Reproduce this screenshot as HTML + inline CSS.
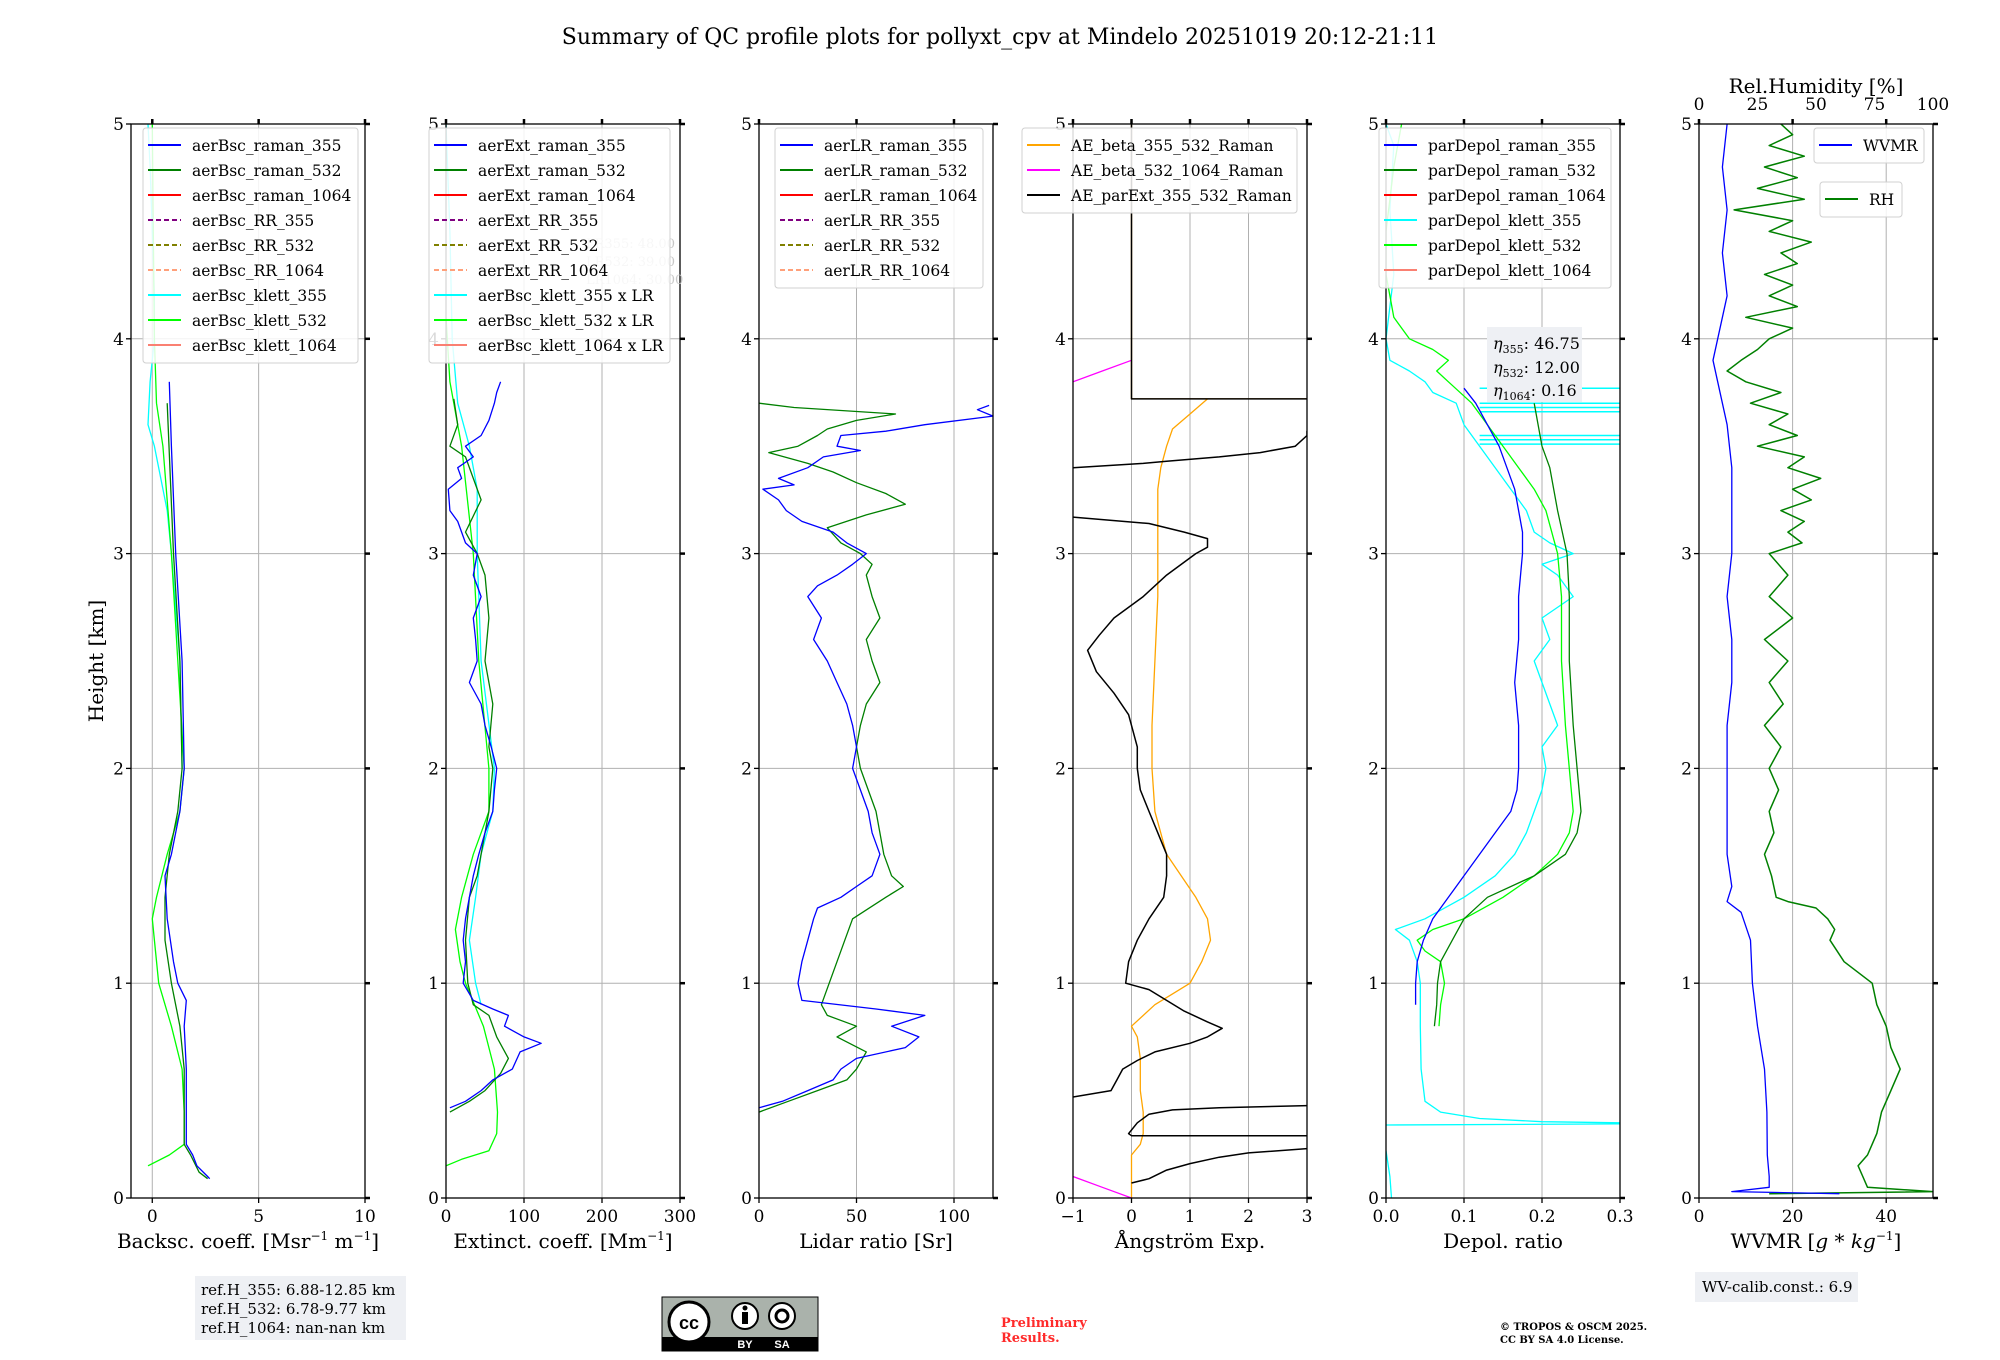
<!DOCTYPE html>
<html><head><meta charset="utf-8">
<style>
html,body{margin:0;padding:0;background:#fff;}
svg{display:block;font-family:"DejaVu Serif","Liberation Serif",serif;}
</style></head>
<body>
<svg id="chart" width="2000" height="1360" viewBox="0 0 2000 1360" xmlns="http://www.w3.org/2000/svg">
<text x="1000" y="44" text-anchor="middle" font-size="22">Summary of QC profile plots for pollyxt_cpv at Mindelo 20251019 20:12-21:11</text>
<text transform="translate(103,661) rotate(-90)" text-anchor="middle" font-size="20">Height [km]</text>
<g id="panels"></g>
<rect x="195" y="1276" width="211" height="64" fill="#eef0f4"/>
<text x="201" y="1295" font-size="15">ref.H_355: 6.88-12.85 km</text>
<text x="201" y="1314" font-size="15">ref.H_532: 6.78-9.77 km</text>
<text x="201" y="1333" font-size="15">ref.H_1064: nan-nan km</text>
<g>
<rect x="662" y="1297" width="156" height="54" fill="#aab2ab" stroke="#000" stroke-width="1"/>
<rect x="662" y="1337" width="156" height="14" fill="#000"/>
<circle cx="689" cy="1322" r="20" fill="#fff" stroke="#000" stroke-width="3"/>
<text x="689" y="1329" text-anchor="middle" font-size="18" font-weight="bold" font-family="Liberation Sans, sans-serif">cc</text>
<circle cx="745" cy="1316" r="13" fill="#fff" stroke="#000" stroke-width="2"/>
<rect x="742" y="1312" width="6" height="12" fill="#000"/><circle cx="745" cy="1308" r="2.5" fill="#000"/>
<circle cx="782" cy="1316" r="13" fill="#fff" stroke="#000" stroke-width="2"/>
<circle cx="782" cy="1316" r="6" fill="none" stroke="#000" stroke-width="3"/>
<text x="745" y="1348" text-anchor="middle" font-size="11" fill="#fff" font-family="Liberation Sans, sans-serif" font-weight="bold">BY</text>
<text x="782" y="1348" text-anchor="middle" font-size="11" fill="#fff" font-family="Liberation Sans, sans-serif" font-weight="bold">SA</text>
</g>
<text x="1001" y="1327" font-size="13" font-weight="bold" fill="#ff2a2a">Preliminary</text>
<text x="1001" y="1342" font-size="13" font-weight="bold" fill="#ff2a2a">Results.</text>
<text x="1500" y="1330" font-size="10" font-weight="bold">© TROPOS &amp; OSCM 2025.</text>
<text x="1500" y="1343" font-size="10" font-weight="bold">CC BY SA 4.0 License.</text>
<rect x="1695" y="1272" width="163" height="30" fill="#eef0f4"/>
<text x="1702" y="1292" font-size="15">WV-calib.const.: 6.9</text>
</svg>
<script>
const heightTicks = [0,1,2,3,4,5];
const bscTicks = [0,5,10];
const extTicks = [0,100,200,300];
const lrTicks = [0,50,100];
const aeTicks = [-1,0,1,2,3];
const depolTicks = [0.0,0.1,0.2,0.3];
const wvTicks = [0,20,40];
const rhTicks = [0,25,50,75,100];

const bscRaman355 = [[3.8,0.8],[3.5,0.9],[3.0,1.1],[2.5,1.4],[2.0,1.5],[1.8,1.3],[1.6,0.9],[1.5,0.6],[1.3,0.7],[1.1,1.0],[1.0,1.2],[0.92,1.6],[0.8,1.5],[0.6,1.6],[0.4,1.6],[0.25,1.6],[0.2,1.9],[0.15,2.1],[0.1,2.6],[0.09,2.7]];
const bscRaman532 = [[3.7,0.7],[3.0,1.0],[2.5,1.3],[2.0,1.4],[1.8,1.2],[1.6,0.8],[1.4,0.6],[1.2,0.6],[1.0,0.9],[0.8,1.3],[0.6,1.5],[0.4,1.5],[0.25,1.5],[0.2,1.8],[0.12,2.2],[0.09,2.6]];
const bscKlett355 = [[5,-0.2],[4.8,-0.1],[4.5,0.0],[4.2,0.1],[4.0,0.1],[3.8,-0.1],[3.6,-0.2],[3.5,0.1],[3.2,0.7],[3.0,0.9],[2.5,1.3],[2.0,1.4]];
const bscKlett532 = [[5,0.0],[4.5,0.05],[4.0,0.1],[3.7,0.2],[3.5,0.5],[3.0,0.9],[2.5,1.2],[2.0,1.5],[1.8,1.3],[1.6,0.7],[1.4,0.2],[1.3,0.0],[1.2,0.1],[1.0,0.3],[0.8,0.9],[0.6,1.4],[0.4,1.5],[0.25,1.5],[0.2,0.8],[0.15,-0.2]];

const extRaman355 = [[3.8,70],[3.75,65],[3.7,62],[3.62,55],[3.55,45],[3.5,25],[3.45,35],[3.4,15],[3.35,20],[3.3,3],[3.2,5],[3.15,15],[3.05,25],[3.0,40],[2.9,35],[2.8,45],[2.7,35],[2.6,38],[2.5,40],[2.4,30],[2.3,45],[2.2,50],[2.1,58],[2.0,65],[1.9,62],[1.8,60],[1.7,50],[1.6,42],[1.5,35],[1.4,30],[1.3,25],[1.2,22],[1.1,25],[1.0,22],[0.92,35],[0.88,60],[0.85,80],[0.8,75],[0.75,100],[0.72,122],[0.68,95],[0.6,85],[0.55,60],[0.5,45],[0.45,25],[0.42,5]];
const extRaman532 = [[3.72,10],[3.6,15],[3.5,5],[3.45,25],[3.35,35],[3.25,45],[3.1,25],[3.0,40],[2.9,50],[2.7,55],[2.5,50],[2.3,60],[2.1,55],[2.0,60],[1.8,55],[1.6,45],[1.5,40],[1.4,30],[1.2,25],[1.0,28],[0.9,35],[0.85,55],[0.75,65],[0.65,80],[0.58,70],[0.5,50],[0.45,30],[0.4,5]];
const extKlett355 = [[5,0],[4.5,5],[4.0,8],[3.7,15],[3.5,30],[3.3,40],[3.0,40],[2.5,45],[2.0,62],[1.8,60],[1.6,45],[1.4,38],[1.2,30],[1.0,38],[0.9,45]];
const extKlett532 = [[4.1,0],[3.8,5],[3.5,20],[3.0,35],[2.5,42],[2.0,55],[1.8,55],[1.6,35],[1.4,20],[1.25,12],[1.1,18],[1.0,25],[0.8,48],[0.6,62],[0.4,66],[0.3,65],[0.22,55],[0.18,20],[0.15,0]];

const lrRaman355 = [[3.69,118],[3.67,112],[3.64,120],[3.6,85],[3.57,65],[3.55,42],[3.5,40],[3.48,52],[3.45,33],[3.4,25],[3.35,10],[3.32,18],[3.3,2],[3.25,10],[3.2,14],[3.15,22],[3.1,38],[3.05,45],[3.0,55],[2.95,48],[2.9,40],[2.85,30],[2.8,25],[2.7,32],[2.6,28],[2.5,35],[2.4,40],[2.3,45],[2.2,48],[2.1,50],[2.0,48],[1.9,52],[1.8,56],[1.7,58],[1.6,62],[1.5,58],[1.45,50],[1.4,42],[1.35,30],[1.3,28],[1.2,25],[1.1,22],[1.0,20],[0.92,22],[0.88,60],[0.85,85],[0.8,68],[0.75,82],[0.7,75],[0.65,50],[0.6,42],[0.55,38],[0.5,25],[0.45,12],[0.42,0]];
const lrRaman532 = [[3.7,0],[3.68,18],[3.65,70],[3.62,50],[3.58,35],[3.55,30],[3.5,20],[3.47,5],[3.42,25],[3.38,38],[3.33,50],[3.28,65],[3.23,75],[3.18,55],[3.12,35],[3.05,42],[3.0,52],[2.95,58],[2.9,55],[2.8,58],[2.7,62],[2.6,55],[2.5,58],[2.4,62],[2.3,55],[2.2,52],[2.1,50],[2.0,52],[1.9,56],[1.8,60],[1.7,62],[1.6,64],[1.5,68],[1.45,74],[1.4,65],[1.3,48],[1.2,44],[1.1,40],[1.0,36],[0.9,32],[0.85,35],[0.8,50],[0.75,40],[0.68,55],[0.6,50],[0.55,45],[0.5,30],[0.45,15],[0.4,0]];

const aeBsc355532 = [[3.72,1.3],[3.65,1.0],[3.58,0.7],[3.5,0.6],[3.4,0.5],[3.3,0.45],[3.0,0.45],[2.8,0.45],[2.5,0.4],[2.2,0.35],[2.0,0.35],[1.8,0.4],[1.6,0.6],[1.4,1.1],[1.3,1.3],[1.2,1.35],[1.1,1.2],[1.0,1.0],[0.95,0.7],[0.9,0.4],[0.8,0.0],[0.75,0.1],[0.65,0.15],[0.5,0.15],[0.4,0.2],[0.3,0.2],[0.25,0.15],[0.2,0.0],[0.0,0.0],null,[5,0],[3.72,0],[3.72,3]];
const aeBsc5321064 = [[3.9,0],[3.85,-0.5],[3.8,-1],null,[0.1,-1],[0.05,-0.5],[0.0,0]];
const aeParExt = [[5,0],[3.72,0],[3.72,3],null,[3.6,3.1],[3.57,3.0],[3.55,3.0],[3.5,2.8],[3.47,2.2],[3.45,1.5],[3.43,0.6],[3.42,0.2],[3.4,-1],null,[3.17,-1],[3.14,0.3],[3.1,0.9],[3.07,1.3],[3.03,1.3],[3.0,1.1],[2.9,0.6],[2.8,0.2],[2.7,-0.3],[2.62,-0.55],[2.55,-0.75],[2.45,-0.6],[2.35,-0.3],[2.25,-0.05],[2.1,0.1],[2.0,0.1],[1.9,0.15],[1.8,0.3],[1.7,0.45],[1.6,0.6],[1.5,0.6],[1.4,0.55],[1.3,0.3],[1.2,0.1],[1.1,-0.05],[1.0,-0.1],[0.97,0.3],[0.92,0.6],[0.87,0.9],[0.82,1.3],[0.79,1.55],[0.75,1.3],[0.72,1.0],[0.68,0.4],[0.64,0.1],[0.6,-0.15],[0.55,-0.25],[0.5,-0.35],[0.47,-1],null,[0.43,3],[0.42,1.5],[0.41,0.7],[0.39,0.3],[0.35,0.1],[0.3,-0.05],[0.29,0],[0.29,3],null,[0.23,3],[0.21,2],[0.19,1.5],[0.16,1.0],[0.13,0.6],[0.09,0.3],[0.07,0.0]];

const depolRaman355 = [[3.77,0.1],[3.7,0.115],[3.6,0.13],[3.5,0.145],[3.4,0.155],[3.3,0.165],[3.2,0.17],[3.1,0.175],[3.0,0.175],[2.8,0.17],[2.6,0.17],[2.4,0.165],[2.2,0.17],[2.0,0.17],[1.9,0.168],[1.8,0.16],[1.7,0.14],[1.6,0.12],[1.5,0.1],[1.4,0.08],[1.3,0.06],[1.2,0.048],[1.1,0.04],[1.0,0.038],[0.9,0.038]];
const depolRaman532 = [[3.7,0.19],[3.6,0.195],[3.5,0.2],[3.4,0.21],[3.2,0.22],[3.0,0.232],[2.8,0.235],[2.5,0.235],[2.2,0.24],[2.0,0.245],[1.8,0.25],[1.7,0.245],[1.6,0.23],[1.5,0.19],[1.4,0.13],[1.3,0.1],[1.2,0.085],[1.1,0.07],[1.0,0.066],[0.9,0.065],[0.8,0.062]];
const depolKlett355 = [[5,0.0],[4.9,0.01],[4.6,0.005],[4.3,0.01],[4.0,0.0],[3.9,0.005],[3.85,0.03],[3.8,0.05],[3.75,0.06],[3.7,0.09],[3.6,0.1],[3.5,0.12],[3.4,0.14],[3.3,0.16],[3.25,0.17],[3.2,0.18],[3.1,0.19],[3.05,0.21],[3.0,0.24],[2.95,0.2],[2.9,0.22],[2.8,0.24],[2.7,0.2],[2.6,0.21],[2.5,0.19],[2.4,0.2],[2.3,0.21],[2.2,0.22],[2.1,0.2],[2.0,0.205],[1.9,0.2],[1.8,0.19],[1.7,0.18],[1.6,0.165],[1.5,0.14],[1.4,0.1],[1.3,0.05],[1.25,0.012],[1.2,0.03],[1.1,0.04],[1.0,0.044],[0.8,0.044],[0.6,0.045],[0.45,0.05],[0.4,0.07],[0.37,0.12],[0.355,0.2],[0.35,0.3],[0.345,0.3],[0.34,0.0],null,[0.22,0.0],[0.1,0.005],[0.0,0.007]];
const depolKlett532 = [[5,0.02],[4.8,0.01],[4.5,0.0],[4.3,0.0],[4.1,0.01],[4.0,0.03],[3.95,0.06],[3.9,0.08],[3.85,0.065],[3.8,0.08],[3.7,0.11],[3.6,0.13],[3.5,0.15],[3.4,0.17],[3.3,0.19],[3.2,0.205],[3.0,0.22],[2.8,0.225],[2.5,0.225],[2.2,0.23],[2.0,0.235],[1.8,0.24],[1.7,0.235],[1.6,0.22],[1.5,0.19],[1.4,0.15],[1.3,0.1],[1.25,0.06],[1.2,0.04],[1.15,0.05],[1.1,0.07],[1.0,0.075],[0.9,0.07],[0.8,0.068]];
const depolSpikeHeights = [3.77,3.7,3.68,3.66,3.55,3.53,3.51];

const wvmr = [[5,6],[4.8,5],[4.6,6],[4.4,5],[4.2,6],[4.0,4],[3.9,3],[3.8,4],[3.6,6],[3.4,7],[3.2,7],[3.0,7],[2.8,6],[2.6,7],[2.4,7],[2.2,6],[2.0,6],[1.8,6],[1.6,6],[1.45,7],[1.38,6],[1.33,9],[1.2,11],[1.0,11.4],[0.8,12.5],[0.6,14],[0.4,14.5],[0.2,14.6],[0.1,15],[0.05,15],[0.03,7],[0.025,18],[0.02,30]];
const relHum = [[5.0,35],[4.95,40],[4.9,30],[4.85,45],[4.8,28],[4.75,42],[4.7,25],[4.65,45],[4.6,15],[4.55,40],[4.5,30],[4.45,48],[4.4,35],[4.35,42],[4.3,28],[4.25,40],[4.2,30],[4.15,42],[4.1,20],[4.05,40],[4.0,30],[3.95,25],[3.9,18],[3.85,12],[3.8,20],[3.75,35],[3.7,22],[3.65,38],[3.6,30],[3.55,42],[3.5,25],[3.45,45],[3.4,38],[3.35,52],[3.3,40],[3.25,48],[3.2,35],[3.15,45],[3.1,38],[3.05,44],[3.0,30],[2.9,38],[2.8,30],[2.7,40],[2.6,28],[2.5,38],[2.4,30],[2.3,36],[2.2,28],[2.1,35],[2.0,30],[1.9,34],[1.8,30],[1.7,32],[1.6,28],[1.5,31],[1.4,33],[1.38,38],[1.35,50],[1.3,55],[1.25,58],[1.2,56],[1.1,62],[1.0,74],[0.9,76],[0.8,80],[0.7,82],[0.6,86],[0.5,82],[0.4,78],[0.3,76],[0.2,72],[0.15,68],[0.1,70],[0.05,72],[0.03,100],[0.02,30]];

const NS = 'http://www.w3.org/2000/svg';
const TOP = 124, BOT = 1198, PW = 234;
const panelLefts = [131, 446, 759, 1073, 1386, 1699];
const root = document.getElementById('panels');
function yS(h){ return BOT - (h/5)*(BOT-TOP); }
function mk(tag, attrs, parent){ const e = document.createElementNS(NS, tag); for (const k in attrs) e.setAttribute(k, attrs[k]); (parent||root).appendChild(e); return e; }
function makeX(left, min, max){ return v => left + (v-min)/(max-min)*PW; }

function drawLine(g, data, xS, color, width, name){
  let d = '', pen = false;
  for (const p of data){
    if (p === null){ pen = false; continue; }
    d += (pen ? 'L' : 'M') + xS(p[1]).toFixed(1) + ' ' + yS(p[0]).toFixed(1);
    pen = true;
  }
  const el = mk('path', {d: d, fill: 'none', stroke: color, 'stroke-width': width, 'stroke-linejoin': 'round'}, g);
  
  
  return el;
}

function drawPanel(i, min, max, ticks, xLabel, tickFmt){
  const left = panelLefts[i];
  const xS = makeX(left, min, max);
  const g = mk('g', {});
  
  
  mk('clipPath', {id: 'clip' + i}, g);
  mk('rect', {x: left, y: TOP, width: PW, height: BOT-TOP}, g.lastChild);
  for (const t of ticks){
    const gl = mk('line', {x1: xS(t), x2: xS(t), y1: TOP, y2: BOT, stroke: '#b0b0b0', 'stroke-width': 1}, g);
    
    
  }
  for (const h of heightTicks){
    const gl = mk('line', {x1: left, x2: left+PW, y1: yS(h), y2: yS(h), stroke: '#b0b0b0', 'stroke-width': 1}, g);
    
    
  }
  const plot = mk('g', {'clip-path': 'url(#clip' + i + ')'}, g);
  
  
  const fr = mk('rect', {x: left, y: TOP, width: PW, height: BOT-TOP, fill: 'none', stroke: '#000', 'stroke-width': 1.3}, g);
  
  
  for (const t of ticks){
    const x = xS(t);
    mk('line', {x1: x, x2: x, y1: BOT, y2: BOT+5, stroke: '#000', 'stroke-width': 1.3}, g);
    mk('line', {x1: x, x2: x, y1: TOP, y2: TOP-5, stroke: '#000', 'stroke-width': 2.5}, g);
    const tl = mk('text', {x: x, y: BOT+24, 'text-anchor': 'middle', 'font-size': 17}, g);
    tl.textContent = tickFmt ? tickFmt(t) : String(t).replace('-', '\u2212');
    
    
  }
  for (const h of heightTicks){
    const y = yS(h);
    mk('line', {x1: left-5, x2: left, y1: y, y2: y, stroke: '#000', 'stroke-width': 1.3}, g);
    mk('line', {x1: left+PW, x2: left+PW+5, y1: y, y2: y, stroke: '#000', 'stroke-width': 2.5}, g);
    const tl = mk('text', {x: left-7, y: y+6, 'text-anchor': 'end', 'font-size': 17}, g);
    tl.textContent = h;
    
    
  }
  const xl = mk('text', {x: left+PW/2, y: 1248, 'text-anchor': 'middle', 'font-size': 20}, g);
  xl.innerHTML = xLabel;
  
  
  return {g: g, plot: plot, xS: xS};
}

function drawLegend(g, x, y, w, entries, name){
  const lg = mk('g', {}, g);
  
  
  mk('rect', {x: x, y: y, width: w, height: entries.length*25 + 10, fill: '#fff', 'fill-opacity': 0.85, stroke: '#d0d0d0', rx: 3}, lg);
  entries.forEach((e, k) => {
    const cy = y + 17 + k*25;
    const ln = mk('line', {x1: x+5, x2: x+38, y1: cy, y2: cy, stroke: e[1], 'stroke-width': 2, 'stroke-dasharray': e[2] ? '5,3' : 'none'}, lg);
    
    
    const t = mk('text', {x: x+49, y: cy+6, 'font-size': 15.5}, lg);
    t.textContent = e[0];
    
    
  });
}

let P = drawPanel(0, -1, 10, bscTicks, 'Backsc. coeff. [Msr<tspan dy="-8" font-size="12">−1</tspan><tspan dy="8"> m</tspan><tspan dy="-8" font-size="12">−1</tspan><tspan dy="8">]</tspan>');
drawLine(P.plot, bscKlett355, P.xS, '#00ffff', 1.3, 'aerBsc-klett-355-line');
drawLine(P.plot, bscKlett532, P.xS, '#00ff00', 1.3, 'aerBsc-klett-532-line');
drawLine(P.plot, bscRaman532, P.xS, '#008000', 1.3, 'aerBsc-raman-532-line');
drawLine(P.plot, bscRaman355, P.xS, '#0000ff', 1.3, 'aerBsc-raman-355-line');
drawLegend(P.g, 143, 128, 215, [['aerBsc_raman_355','#0000ff'],['aerBsc_raman_532','#008000'],['aerBsc_raman_1064','#ff0000'],['aerBsc_RR_355','#800080',1],['aerBsc_RR_532','#808000',1],['aerBsc_RR_1064','#ffa07a',1],['aerBsc_klett_355','#00ffff'],['aerBsc_klett_532','#00ff00'],['aerBsc_klett_1064','#fa8072']], 'backscatter-legend');

P = drawPanel(1, 0, 300, extTicks, 'Extinct. coeff. [Mm<tspan dy="-8" font-size="12">−1</tspan><tspan dy="8">]</tspan>');
drawLine(P.plot, extKlett355, P.xS, '#00ffff', 1.3, 'aerBsc-klett-355-x-LR-line');
drawLine(P.plot, extKlett532, P.xS, '#00ff00', 1.3, 'aerBsc-klett-532-x-LR-line');
drawLine(P.plot, extRaman532, P.xS, '#008000', 1.3, 'aerExt-raman-532-line');
drawLine(P.plot, extRaman355, P.xS, '#0000ff', 1.3, 'aerExt-raman-355-line');
{
  const t1 = mk('text', {x: 586, y: 248, 'font-size': 13, fill: '#c8c8c8'}, P.g); t1.textContent = 'LR355: 48.00';
   
  const t2 = mk('text', {x: 586, y: 266, 'font-size': 13, fill: '#c8c8c8'}, P.g); t2.textContent = 'LR532: 39.00';
   
  const t3 = mk('text', {x: 586, y: 284, 'font-size': 13, fill: '#c8c8c8'}, P.g); t3.textContent = 'LR1064: 30.00';
   
}
drawLegend(P.g, 429, 128, 241, [['aerExt_raman_355','#0000ff'],['aerExt_raman_532','#008000'],['aerExt_raman_1064','#ff0000'],['aerExt_RR_355','#800080',1],['aerExt_RR_532','#808000',1],['aerExt_RR_1064','#ffa07a',1],['aerBsc_klett_355 x LR','#00ffff'],['aerBsc_klett_532 x LR','#00ff00'],['aerBsc_klett_1064 x LR','#fa8072']], 'extinction-legend');

P = drawPanel(2, 0, 120, lrTicks, 'Lidar ratio [Sr]');
drawLine(P.plot, lrRaman532, P.xS, '#008000', 1.3, 'aerLR-raman-532-line');
drawLine(P.plot, lrRaman355, P.xS, '#0000ff', 1.3, 'aerLR-raman-355-line');
drawLegend(P.g, 775, 128, 208, [['aerLR_raman_355','#0000ff'],['aerLR_raman_532','#008000'],['aerLR_raman_1064','#ff0000'],['aerLR_RR_355','#800080',1],['aerLR_RR_532','#808000',1],['aerLR_RR_1064','#ffa07a',1]], 'lidar-ratio-legend');

P = drawPanel(3, -1, 3, aeTicks, 'Ångström Exp.');
drawLine(P.plot, aeBsc355532, P.xS, '#ffa500', 1.3, 'AE-beta-355-532-line');
drawLine(P.plot, aeBsc5321064, P.xS, '#ff00ff', 1.3, 'AE-beta-532-1064-line');
drawLine(P.plot, aeParExt, P.xS, '#000000', 1.5, 'AE-parExt-355-532-line');
drawLegend(P.g, 1022, 128, 275, [['AE_beta_355_532_Raman','#ffa500'],['AE_beta_532_1064_Raman','#ff00ff'],['AE_parExt_355_532_Raman','#000000']], 'angstrom-legend');

P = drawPanel(4, 0, 0.3, depolTicks, 'Depol. ratio', t => t.toFixed(1));
drawLine(P.plot, depolKlett355, P.xS, '#00ffff', 1.3, 'parDepol-klett-355-line');
for (const h of depolSpikeHeights){
  drawLine(P.plot, [[h, 0.12], [h, 0.3]], P.xS, '#00ffff', 1.5, 'parDepol-klett-355-spike');
}
drawLine(P.plot, depolKlett532, P.xS, '#00ff00', 1.3, 'parDepol-klett-532-line');
drawLine(P.plot, depolRaman532, P.xS, '#008000', 1.3, 'parDepol-raman-532-line');
drawLine(P.plot, depolRaman355, P.xS, '#0000ff', 1.3, 'parDepol-raman-355-line');
drawLegend(P.g, 1379, 128, 232, [['parDepol_raman_355','#0000ff'],['parDepol_raman_532','#008000'],['parDepol_raman_1064','#ff0000'],['parDepol_klett_355','#00ffff'],['parDepol_klett_532','#00ff00'],['parDepol_klett_1064','#fa8072']], 'depol-legend');
{
  const eb = mk('g', {}, P.g);
  
  
  mk('rect', {x: 1487, y: 327, width: 95, height: 75, fill: '#eef0f4'}, eb);
  const a = mk('text', {x: 1493, y: 349, 'font-size': 16}, eb); a.innerHTML = '<tspan font-style="italic">η</tspan><tspan font-size="11" dy="4">355</tspan><tspan dy="-4">: 46.75</tspan>';
  const b = mk('text', {x: 1493, y: 373, 'font-size': 16}, eb); b.innerHTML = '<tspan font-style="italic">η</tspan><tspan font-size="11" dy="4">532</tspan><tspan dy="-4">: 12.00</tspan>';
  const c = mk('text', {x: 1493, y: 396, 'font-size': 16}, eb); c.innerHTML = '<tspan font-style="italic">η</tspan><tspan font-size="11" dy="4">1064</tspan><tspan dy="-4">: 0.16</tspan>';
}

P = drawPanel(5, 0, 50, wvTicks, 'WVMR [<tspan font-style="italic">g</tspan> * <tspan font-style="italic">kg</tspan><tspan dy="-8" font-size="12">−1</tspan><tspan dy="8">]</tspan>');
const rhX = makeX(panelLefts[5], 0, 100);
drawLine(P.plot, relHum, rhX, '#008000', 1.5, 'relative-humidity-line');
drawLine(P.plot, wvmr, P.xS, '#0000ff', 1.3, 'wvmr-line');
for (const t of rhTicks){
  const tl = mk('text', {x: rhX(t), y: 110, 'text-anchor': 'middle', 'font-size': 17}, P.g);
  tl.textContent = t;
  
  
}
{
  const rt = mk('text', {x: 1816, y: 93, 'text-anchor': 'middle', 'font-size': 20}, P.g);
  rt.textContent = 'Rel.Humidity [%]';
  
  
}
drawLegend(P.g, 1814, 128, 110, [['WVMR','#0000ff']], 'wvmr-legend');
drawLegend(P.g, 1820, 182, 82, [['RH','#008000']], 'rh-legend');
</script>
</body></html>
